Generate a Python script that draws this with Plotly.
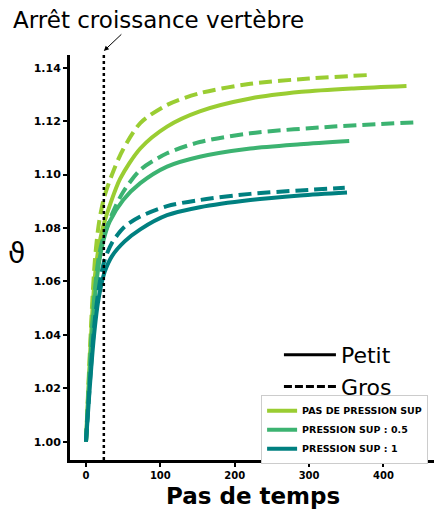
import plotly.graph_objects as go

# ---- data ----
t_lg_solid = [0, 4, 8, 12, 16, 20, 25, 32, 46, 73, 109, 153, 221, 290, 360, 431]
v_lg_solid = [1.000, 1.024, 1.046, 1.062, 1.071, 1.077, 1.0825, 1.0885, 1.0985, 1.1098, 1.118, 1.1237, 1.1285, 1.1310, 1.1323, 1.1332]

t_lg_dash = [0, 4, 8, 12, 16, 20, 25, 37, 50, 73, 109, 153, 221, 300, 380]
v_lg_dash = [1.000, 1.026, 1.050, 1.068, 1.079, 1.086, 1.092, 1.1015, 1.1095, 1.1193, 1.1261, 1.1305, 1.1340, 1.1360, 1.1373]

t_mg_solid = [0, 4, 8, 12, 16, 20, 25, 32, 50, 73, 109, 153, 221, 288, 354]
v_mg_solid = [1.000, 1.021, 1.040, 1.054, 1.064, 1.071, 1.077, 1.0825, 1.0905, 1.0968, 1.103, 1.1067, 1.1098, 1.1114, 1.1126]

t_mg_dash = [0, 4, 8, 12, 16, 20, 25, 37, 50, 73, 109, 153, 221, 333, 443]
v_mg_dash = [1.000, 1.022, 1.042, 1.057, 1.067, 1.073, 1.078, 1.0865, 1.0935, 1.1018, 1.108, 1.1122, 1.1155, 1.1180, 1.1196]

t_te_solid = [0, 4, 8, 12, 16, 20, 25, 35, 52, 73, 109, 153, 221, 288, 351]
v_te_solid = [1.000, 1.016, 1.031, 1.043, 1.052, 1.058, 1.0635, 1.0695, 1.075, 1.0795, 1.0848, 1.0878, 1.0905, 1.0922, 1.0933]

t_te_dash = [0, 4, 8, 12, 16, 20, 25, 35, 52, 73, 109, 153, 221, 288, 348]
v_te_dash = [1.000, 1.017, 1.033, 1.046, 1.055, 1.062, 1.068, 1.0745, 1.0805, 1.0843, 1.0882, 1.0905, 1.0928, 1.0941, 1.0951]

arret_vertebre = 24

pressure_labels = ["PAS DE PRESSION SUP", "PRESSION SUP : 0.5", "PRESSION SUP : 1"]
colors = ["#9ACD32", "#3CB371", "#008080"]
size_labels = ["Petit", "Gros"]

x_ticks = [0, 100, 200, 300, 400]
y_ticks = [1.00, 1.02, 1.04, 1.06, 1.08, 1.10, 1.12, 1.14]

DASH = "13px,6px"

fig = go.Figure()

series = [
    (t_lg_solid, v_lg_solid, t_lg_dash, v_lg_dash),
    (t_mg_solid, v_mg_solid, t_mg_dash, v_mg_dash),
    (t_te_solid, v_te_solid, t_te_dash, v_te_dash),
]
for (ts, vs, td, vd), col, lab in zip(series, colors, pressure_labels):
    fig.add_trace(go.Scatter(x=td, y=vd, mode="lines",
                             line=dict(color=col, width=4, dash=DASH, shape="spline", smoothing=0.8),
                             showlegend=False))
    fig.add_trace(go.Scatter(x=ts, y=vs, mode="lines",
                             line=dict(color=col, width=4, shape="spline", smoothing=0.8),
                             name=lab, legend="legend"))

# size legend (black)
fig.add_trace(go.Scatter(x=[None], y=[None], mode="lines", line=dict(color="black", width=3),
                         name=size_labels[0], legend="legend2"))
fig.add_trace(go.Scatter(x=[None], y=[None], mode="lines", line=dict(color="black", width=3, dash="8px,3px"),
                         name=size_labels[1], legend="legend2"))

# vertical dotted line
fig.add_shape(type="line", xref="x", yref="paper", x0=arret_vertebre, x1=arret_vertebre, y0=0, y1=1.0,
              line=dict(color="black", width=2.5, dash="dot"))

fig.add_annotation(xref="paper", yref="paper", x=-0.162, y=1.086, xanchor="left", yanchor="middle",
                   text="Arrêt croissance vertèbre", showarrow=False,
                   font=dict(family="DejaVu Sans", size=23, color="black"))
fig.add_annotation(xref="x", yref="paper", x=arret_vertebre, y=1.01, text="", showarrow=True,
                   arrowhead=2, arrowsize=1, arrowwidth=1, arrowcolor="black", ax=19, ay=-18)

fig.add_annotation(xref="paper", yref="paper", x=-0.176, y=0.511, text="ϑ", showarrow=False,
                   font=dict(family="DejaVu Sans", size=28, color="black"))

fig.add_annotation(xref="paper", yref="paper", x=0.503, y=-0.089, text="Pas de temps", showarrow=False,
                   xanchor="center", yanchor="middle",
                   font=dict(family="DejaVu Sans", size=23, color="black", weight="bold"))

fig.update_layout(
    width=434, height=511,
    margin=dict(l=70, r=0, t=55, b=51, autoexpand=False),
    plot_bgcolor="white", paper_bgcolor="white",
    xaxis=dict(range=[-21.5, 468], tickvals=x_ticks, showgrid=False, zeroline=False,
               showline=True, linecolor="black", linewidth=3, ticks="outside", ticklen=4, tickwidth=2,
               tickcolor="black",
               tickfont=dict(family="DejaVu Sans", size=10, color="black", weight="bold")),
    yaxis=dict(range=[0.99315, 1.1448], tickvals=y_ticks, tickformat=".2f", showgrid=False, zeroline=False,
               showline=True, linecolor="black", linewidth=3, ticks="outside", ticklen=4, tickwidth=2,
               tickcolor="black",
               tickfont=dict(family="DejaVu Sans", size=11, color="black", weight="bold")),
    legend=dict(x=0.525, y=0.16, xanchor="left", yanchor="top", bgcolor="white",
                bordercolor="#cccccc", borderwidth=1,
                font=dict(family="DejaVu Sans", size=9.5, color="black", weight="bold"),
                tracegroupgap=0, itemwidth=30),
    legend2=dict(x=0.574, y=0.311, xanchor="left", yanchor="top", bgcolor="rgba(0,0,0,0)",
                 font=dict(family="DejaVu Sans", size=22, color="black"), itemwidth=52),
    showlegend=True,
)

fig.write_html("out.html", config={"displayModeBar": False},
               post_script="document.body.style.margin='0';document.body.style.padding='0';"
                           "document.body.style.overflow='hidden';")
